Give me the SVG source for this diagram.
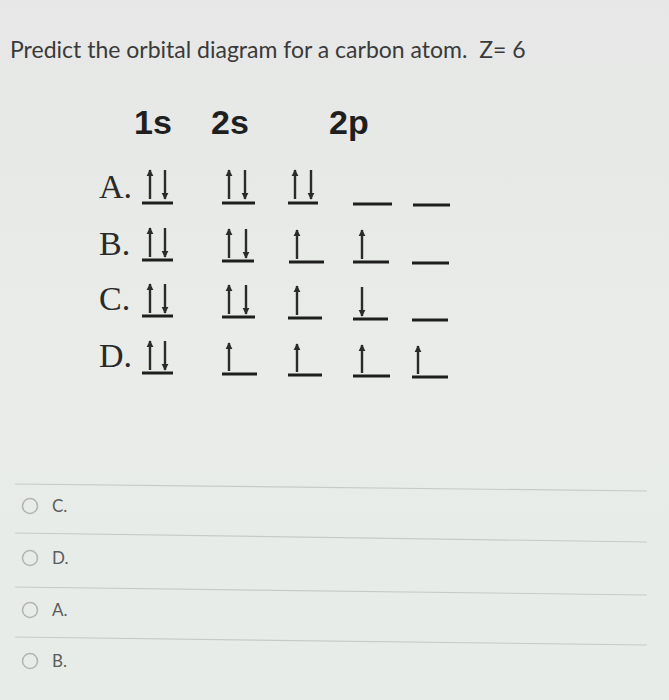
<svg xmlns="http://www.w3.org/2000/svg" width="669" height="700" viewBox="0 0 669 700">
  <defs>
    <linearGradient id="bg" x1="0" y1="0" x2="0" y2="1">
      <stop offset="0" stop-color="#e6e7e6"/>
      <stop offset="0.5" stop-color="#e9ece9"/>
      <stop offset="1" stop-color="#e7ece8"/>
    </linearGradient>
    <marker id="head" viewBox="0 0 10 10" refX="9" refY="5" markerWidth="3" markerHeight="3" markerUnits="strokeWidth" orient="auto">
      <path d="M0,0 L10,5 L0,10 Z" fill="#2b2b2b"/>
    </marker>
  </defs>
  <style>
    .title { font-family: Lato, "Open Sans", sans-serif; font-size: 23px; fill: #3a3a3a; white-space: pre; }
    .hdr { font-family: "Liberation Sans", Arial, sans-serif; font-weight: bold; font-size: 34px; fill: #1f1f1f; }
    .lbl { font-family: "Liberation Serif", "Times New Roman", serif; font-size: 34px; fill: #2a2a2a; }
    .ul { stroke: #1e1e1e; stroke-width: 3; }
    .arr { stroke: #2b2b2b; stroke-width: 2.4; marker-end: url(#head); }
    .sep { stroke: #c6cbc8; stroke-width: 1.2; }
    .radio { fill: none; stroke: #b3b6b4; stroke-width: 1.6; }
    .opt { font-family: Lato, "Open Sans", sans-serif; font-size: 17px; fill: #5a5d5c; }
  </style>

  <rect x="0" y="0" width="669" height="700" fill="url(#bg)"/>

  <g id="question">
    <text class="title" x="10" y="58" xml:space="preserve">Predict the orbital diagram for a carbon atom.  Z= 6</text>
  </g>

  <g id="headers">
    <text class="hdr" x="134" y="134">1s</text>
    <text class="hdr" x="211" y="134">2s</text>
    <text class="hdr" x="329" y="134">2p</text>
  </g>

  <g id="rowA">
    <text class="lbl" x="99" y="198">A.</text>
    <line class="ul" x1="142" y1="203" x2="173" y2="203"/>
    <line class="ul" x1="222" y1="203" x2="255" y2="203"/>
    <line class="ul" x1="288" y1="203" x2="318" y2="203"/>
    <line class="ul" x1="353" y1="204" x2="392" y2="204"/>
    <line class="ul" x1="413" y1="205" x2="450" y2="205"/>
    <line class="arr" x1="150" y1="199" x2="150" y2="170"/>
    <line class="arr" x1="165" y1="170" x2="165" y2="199"/>
    <line class="arr" x1="229" y1="199" x2="229" y2="170"/>
    <line class="arr" x1="245" y1="170" x2="245" y2="199"/>
    <line class="arr" x1="295" y1="199" x2="295" y2="170"/>
    <line class="arr" x1="311" y1="170" x2="311" y2="199"/>
  </g>

  <g id="rowB">
    <text class="lbl" x="99" y="255">B.</text>
    <line class="ul" x1="142" y1="260" x2="173" y2="260"/>
    <line class="ul" x1="222" y1="261" x2="254" y2="261"/>
    <line class="ul" x1="289" y1="262" x2="324" y2="262"/>
    <line class="ul" x1="353" y1="262" x2="389" y2="262"/>
    <line class="ul" x1="412" y1="263" x2="449" y2="263"/>
    <line class="arr" x1="150" y1="257" x2="150" y2="228"/>
    <line class="arr" x1="165" y1="228" x2="165" y2="257"/>
    <line class="arr" x1="229" y1="258" x2="229" y2="229"/>
    <line class="arr" x1="246" y1="229" x2="246" y2="258"/>
    <line class="arr" x1="297" y1="259" x2="297" y2="230"/>
    <line class="arr" x1="362" y1="259" x2="362" y2="230"/>
  </g>

  <g id="rowC">
    <text class="lbl" x="99" y="310">C.</text>
    <line class="ul" x1="142" y1="316" x2="173" y2="316"/>
    <line class="ul" x1="222" y1="317" x2="255" y2="317"/>
    <line class="ul" x1="288" y1="318" x2="322" y2="318"/>
    <line class="ul" x1="353" y1="319" x2="388" y2="319"/>
    <line class="ul" x1="412" y1="320" x2="448" y2="320"/>
    <line class="arr" x1="150" y1="313" x2="150" y2="284"/>
    <line class="arr" x1="165" y1="284" x2="165" y2="313"/>
    <line class="arr" x1="229" y1="314" x2="229" y2="285"/>
    <line class="arr" x1="246" y1="285" x2="246" y2="314"/>
    <line class="arr" x1="297" y1="315" x2="297" y2="286"/>
    <line class="arr" x1="362" y1="287" x2="362" y2="316"/>
  </g>

  <g id="rowD">
    <text class="lbl" x="99" y="367">D.</text>
    <line class="ul" x1="142" y1="373" x2="173" y2="373"/>
    <line class="ul" x1="222" y1="374" x2="257" y2="374"/>
    <line class="ul" x1="288" y1="375" x2="322" y2="375"/>
    <line class="ul" x1="353" y1="376" x2="390" y2="376"/>
    <line class="ul" x1="412" y1="377" x2="448" y2="377"/>
    <line class="arr" x1="150" y1="370" x2="150" y2="341"/>
    <line class="arr" x1="165" y1="341" x2="165" y2="370"/>
    <line class="arr" x1="229" y1="371" x2="229" y2="343"/>
    <line class="arr" x1="297" y1="372" x2="297" y2="344"/>
    <line class="arr" x1="362" y1="373" x2="362" y2="345"/>
    <line class="arr" x1="418" y1="374" x2="418" y2="346"/>
  </g>

  <g id="options">
    <line class="sep" x1="15" y1="484" x2="647" y2="491"/>
    <line class="sep" x1="15" y1="533" x2="647" y2="542"/>
    <line class="sep" x1="15" y1="587" x2="647" y2="595"/>
    <line class="sep" x1="15" y1="637" x2="647" y2="645"/>
    <g id="optC"><circle class="radio" cx="30" cy="506" r="7.5"/><text class="opt" x="52" y="512">C.</text></g>
    <g id="optD"><circle class="radio" cx="30" cy="558" r="7.5"/><text class="opt" x="52" y="564">D.</text></g>
    <g id="optA"><circle class="radio" cx="30" cy="610" r="7.5"/><text class="opt" x="52" y="616">A.</text></g>
    <g id="optB"><circle class="radio" cx="30" cy="661" r="7.5"/><text class="opt" x="52" y="667">B.</text></g>
  </g>
</svg>
